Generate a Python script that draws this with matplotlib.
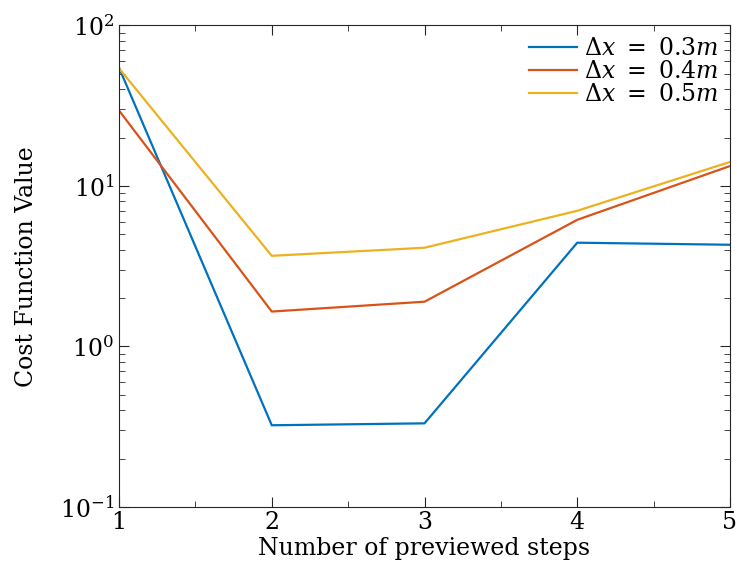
import matplotlib
matplotlib.use("Agg")
import matplotlib.pyplot as plt
from matplotlib.ticker import MultipleLocator

steps = [1, 2, 3, 4, 5]
cost_03 = [54.5, 0.323, 0.332, 4.43, 4.3]
cost_04 = [29.5, 1.65, 1.9, 6.15, 13.3]
cost_05 = [54.0, 3.67, 4.12, 7.0, 14.1]
labels = [r"$\Delta x\ =\ 0.3m$", r"$\Delta x\ =\ 0.4m$", r"$\Delta x\ =\ 0.5m$"]
colors = ["#0072BD", "#D95319", "#EDB120"]

plt.rcParams["font.family"] = "DejaVu Serif"
plt.rcParams["mathtext.fontset"] = "dejavuserif"

fig = plt.figure(figsize=(7.37, 5.70), dpi=100)
ax = fig.add_axes([0.1615, 0.1105, 0.829, 0.845])

for ys, lab, c in zip([cost_03, cost_04, cost_05], labels, colors):
    ax.plot(steps, ys, color=c, lw=1.6, label=lab)

ax.set_yscale("log")
ax.set_xlim(1, 5)
ax.set_ylim(0.1, 100)
ax.xaxis.set_major_locator(MultipleLocator(1))
ax.xaxis.set_minor_locator(MultipleLocator(0.5))

for s in ax.spines.values():
    s.set_color("#262626")
    s.set_linewidth(0.8)
ax.tick_params(which="both", direction="in", top=True, right=True,
               colors="#262626", labelcolor="black", labelsize=17)
ax.tick_params(which="major", length=7)
ax.tick_params(which="minor", length=4)
ax.tick_params(axis="x", pad=3)

ax.set_xlabel("Number of previewed steps", fontsize=17, labelpad=2)
ax.set_ylabel("Cost Function Value", fontsize=17, labelpad=16)

ax.legend(loc="upper right", frameon=False, fontsize=17, handlelength=2.0,
          labelspacing=0.0, handletextpad=0.3, borderaxespad=0.1,
          borderpad=0.4)

fig.savefig("out.png", dpi=100)
